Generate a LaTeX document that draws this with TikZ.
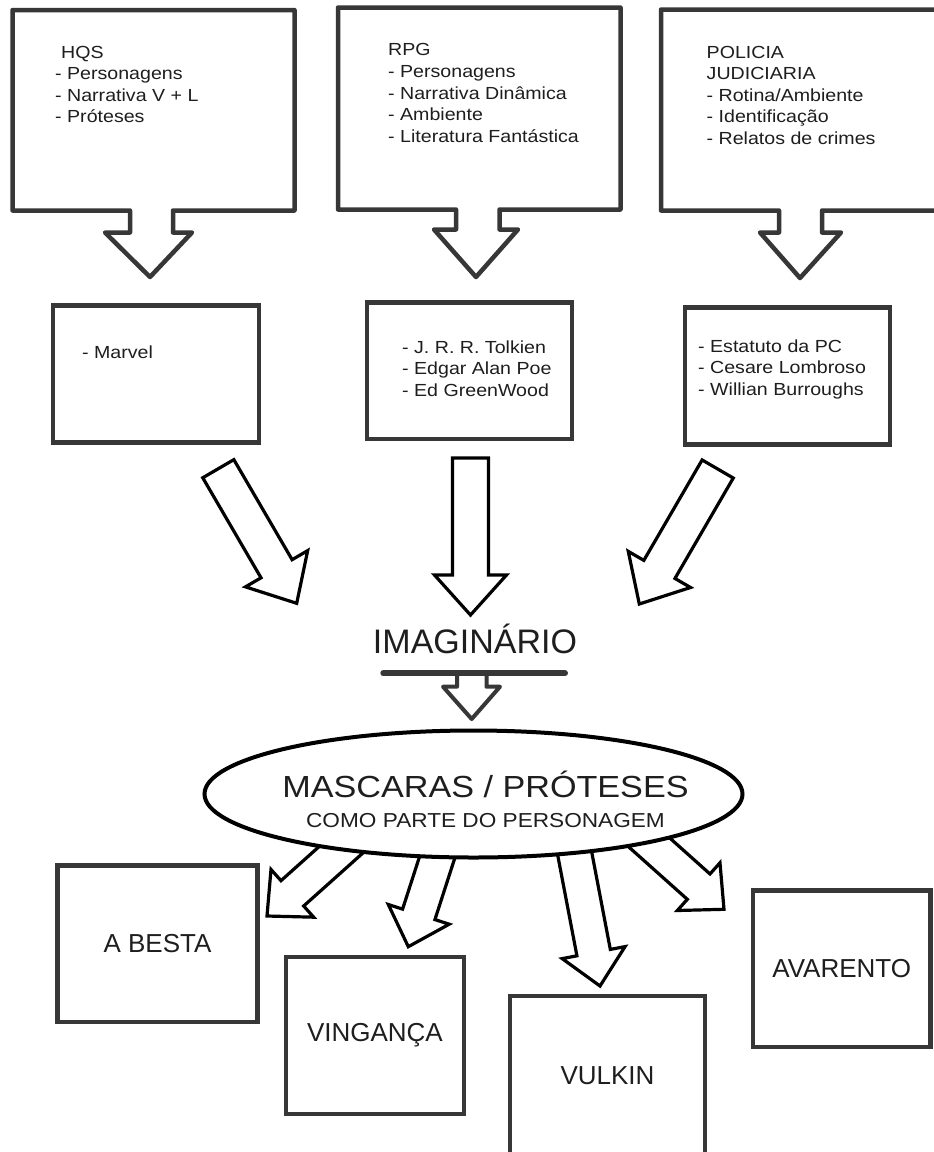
\documentclass[tikz,border=0pt]{standalone}
\usepackage{fontspec}
\setmainfont{Liberation Sans}
\newfontfamily\widesans[FakeStretch=1.12]{Liberation Sans}
\usetikzlibrary{calc,shapes.geometric}

\definecolor{boxgray}{RGB}{55,55,55}
\definecolor{ink}{RGB}{30,30,30}

% block arrow: tail, tip, half shaft, half head, head length
\newcommand{\blockarrow}[5]{%
  \coordinate (neck) at ($(#2)!#5!(#1)$);
  \draw[fatline] ($(#1)!#3!90:(#2)$) -- ($(neck)!#3!90:(#2)$) -- ($(neck)!#4!90:(#2)$) -- (#2)
    -- ($(neck)!#4!-90:(#2)$) -- ($(neck)!#3!-90:(#2)$) -- ($(#1)!#3!-90:(#2)$) -- cycle;}

\tikzset{
  callout/.style={draw=boxgray, line width=4.5pt, line join=round, fill=white},
  listtext/.style={anchor=north west, inner sep=0pt, align=left, text=ink,
    font={\widesans\fontsize{17.5}{21.6}\selectfont}},
  midbox/.style={draw=boxgray, line width=4.5pt, inner sep=0pt},
  rolebox/.style={draw=boxgray, line width=4.3pt, inner sep=0pt, text=ink,
    font={\fontsize{26}{30}\selectfont}},
  fatline/.style={draw=black, line width=3.2pt, fill=white},
}

\begin{document}
\begin{tikzpicture}[x=1pt, y=-1pt]
  \fill[white] (0,0) rectangle (934,1152);
  \useasboundingbox (0,0) rectangle (934,1152);

  % Fontes (caixas com seta)
  \draw[callout] (12.5,10) -- (294.5,10) -- (294.5,210.5) -- (173,210.5) -- (173,232.5) -- (192,232.5)
    -- (150,277) -- (105,232.5) -- (130,232.5) -- (130,210.5) -- (12.5,210.5) -- cycle;
  \node[listtext] (hqs) at (55,45.7) {\hspace*{6pt}HQS\\- Personagens\\- Narrativa V + L\\- Próteses};

  \draw[callout] (338,7.5) -- (620.5,7.5) -- (620.5,209.5) -- (499.5,209.5) -- (499.5,229.5) -- (518,229.5)
    -- (476,277) -- (434,229.5) -- (456,229.5) -- (456,209.5) -- (338,209.5) -- cycle;
  \node[listtext] (rpg) at (388,43.4) {RPG\\- Personagens\\- Narrativa Dinâmica\\- Ambiente\\- Literatura Fantástica};

  \draw[callout] (661,9.5) -- (945,9.5) -- (945,210.5) -- (822,210.5) -- (822,232.5) -- (841,232.5)
    -- (800,278) -- (760,232.5) -- (779,232.5) -- (779,210.5) -- (661,210.5) -- cycle;
  \node[listtext] (policia) at (706.5,45.7) {POLICIA\\JUDICIARIA\\- Rotina/Ambiente\\- Identificação\\- Relatos de crimes};

  % Referencias
  \node[midbox, minimum width=206pt, minimum height=137pt] (marvelbox) at (156,374) {};
  \node[listtext] (marvel) at (82,345.8) {- Marvel};
  \node[midbox, minimum width=205pt, minimum height=136.5pt] (authorbox) at (469.4,370.8) {};
  \node[listtext] (authors) at (402,340.5) {- J. R. R. Tolkien\\- Edgar Alan Poe\\- Ed GreenWood};
  \node[midbox, minimum width=205pt, minimum height=137pt] (refbox) at (787.4,376.1) {};
  \node[listtext] (refs) at (698,339.5) {- Estatuto da PC\\- Cesare Lombroso\\- Willian Burroughs};

  % Setas para o imaginario
  \coordinate (marvelout) at (218.3,468.7);
  \coordinate (marvelin) at (296.7,603.3);
  \coordinate (authorout) at (470.5,458);
  \coordinate (authorin) at (470.5,615);
  \coordinate (refout) at (717.7,469);
  \coordinate (refin) at (639.3,604);
  \blockarrow{marvelout}{marvelin}{18pt}{36pt}{40pt}
  \blockarrow{authorout}{authorin}{18pt}{36pt}{40pt}
  \blockarrow{refout}{refin}{18pt}{36pt}{40pt}

  % Imaginario
  \node[font={\fontsize{34}{40}\selectfont}, text=ink, inner sep=0pt, anchor=base] (imag) at (475,653) {IMAGINÁRIO};
  \draw[boxgray, line width=4pt, line join=round, fill=white] (457,673) -- (457,686.7) -- (443,686.7)
    -- (471.7,719) -- (500,686.7) -- (486.5,686.7) -- (486.5,673);
  \draw[boxgray, line width=6pt, line cap=round] (383.3,673.3) -- (565,673.3);

  % Setas para os personagens
  \coordinate (bestaout) at (356.4,836);
  \coordinate (bestain) at (267,916);
  \coordinate (vingout) at (445,833.1);
  \coordinate (vingin) at (408.3,946.7);
  \coordinate (vulkout) at (570.2,830);
  \coordinate (vulkin) at (600,986);
  \coordinate (avarout) at (631.6,826.7);
  \coordinate (avarin) at (724,909.3);
  \blockarrow{bestaout}{bestain}{17pt}{32pt}{34pt}
  \blockarrow{vingout}{vingin}{17pt}{32pt}{34pt}
  \blockarrow{vulkout}{vulkin}{17pt}{32pt}{34pt}
  \blockarrow{avarout}{avarin}{17pt}{32pt}{34pt}

  % Mascaras
  \node[ellipse, draw=black, line width=4pt, fill=white, minimum width=538pt, minimum height=127pt,
    inner sep=0pt] (masc) at (473.5,794) {};
  \node[font={\widesans\fontsize{30.5}{36}\selectfont}, text=ink, inner sep=0pt, anchor=base] (masctitle)
    at (485.5,797) {MASCARAS / PRÓTESES};
  \node[font={\widesans\fontsize{20.2}{24}\selectfont}, text=ink, inner sep=0pt, anchor=base] (mascsub)
    at (485.5,827) {COMO PARTE DO PERSONAGEM};

  % Personagens
  \node[rolebox, minimum width=200pt, minimum height=156.5pt] (besta) at (157.5,943.75) {A BESTA};
  \node[rolebox, minimum width=177.7pt, minimum height=157.6pt] (vinganca) at (374.9,1035.5) {VINGANÇA};
  \node[rolebox, minimum width=195.4pt, minimum height=160.3pt] (vulkinbox) at (607.5,1075.9) {VULKIN};
  \node[rolebox, minimum width=177.5pt, minimum height=156.5pt] (avarento) at (841.75,968.75) {AVARENTO};
\end{tikzpicture}
\end{document}
